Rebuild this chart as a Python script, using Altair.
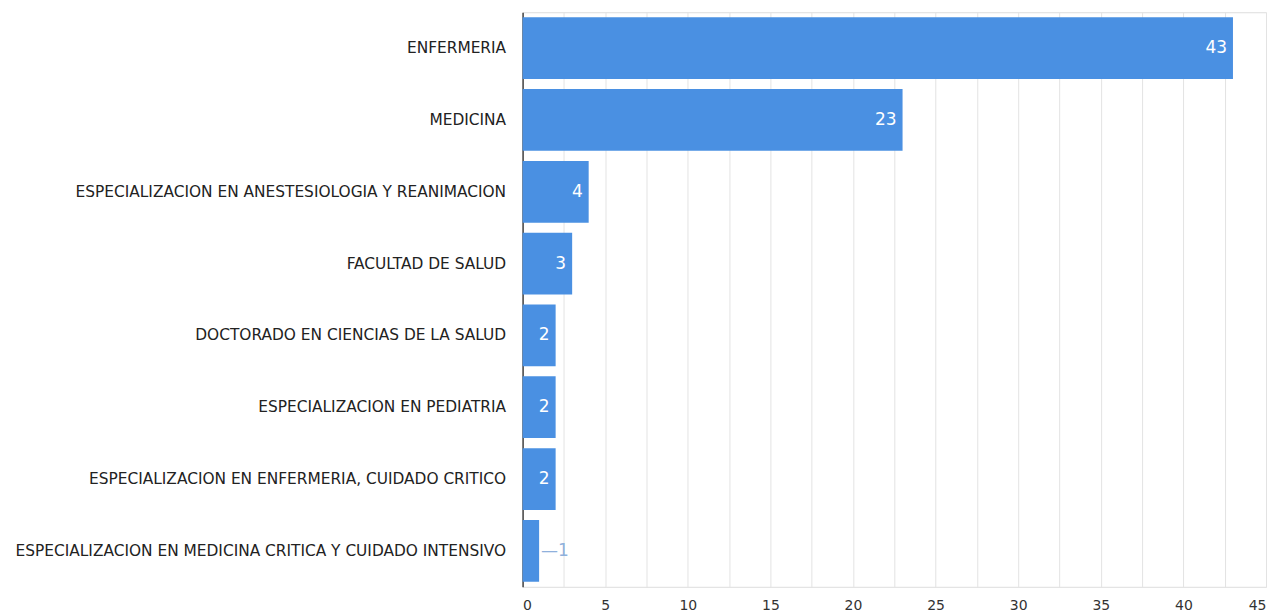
import altair as alt
import pandas as pd

categories = [
    "ENFERMERIA",
    "MEDICINA",
    "ESPECIALIZACION EN ANESTESIOLOGIA Y REANIMACION",
    "FACULTAD DE SALUD",
    "DOCTORADO EN CIENCIAS DE LA SALUD",
    "ESPECIALIZACION EN PEDIATRIA",
    "ESPECIALIZACION EN ENFERMERIA, CUIDADO CRITICO",
    "ESPECIALIZACION EN MEDICINA CRITICA Y CUIDADO INTENSIVO",
]
values = [43, 23, 4, 3, 2, 2, 2, 1]
grid_values = [i * 2.5 for i in range(19)]

df = pd.DataFrame({"cat": categories, "val": values})
df["inside"] = df["val"] >= 2
df["lbl"] = [str(v) if v >= 2 else "\u2014" + str(v) for v in values]

FONT = "DejaVu Sans"

y_enc = alt.Y("cat:N", sort=categories, title=None,
              scale=alt.Scale(paddingInner=0.14, paddingOuter=0.07),
              axis=alt.Axis(labelFontSize=15.4, labelColor="#222", labelFont=FONT,
                            labelPadding=17, ticks=False, domain=False, labelLimit=600))
x_enc = alt.X("val:Q", title=None,
              scale=alt.Scale(domain=[0, 45], nice=False),
              axis=alt.Axis(values=grid_values,
                            labelExpr="datum.value % 5 == 0 ? datum.label : ''",
                            labelFontSize=14, labelColor="#333", labelFont=FONT,
                            labelPadding=12, ticks=False, domain=False,
                            gridColor=alt.condition("datum.value == 0", alt.value("#444"), alt.value("#e3e3e3")),
                            gridWidth=alt.condition("datum.value == 0", alt.value(1.5), alt.value(1))))

bars = alt.Chart(df).mark_bar(color="#4a90e2").encode(y=y_enc, x=x_enc)

inside = alt.Chart(df).transform_filter("datum.inside").mark_text(
    align="right", baseline="middle", dx=-6, color="white", fontSize=17, font=FONT
).encode(y=alt.Y("cat:N", sort=categories), x="val:Q", text="lbl:N")

outside = alt.Chart(df).transform_filter("!datum.inside").mark_text(
    align="left", baseline="middle", dx=2, color="#8fb0dc", fontSize=17, font=FONT
).encode(y=alt.Y("cat:N", sort=categories), x="val:Q", text="lbl:N")

chart = alt.layer(bars, inside, outside).properties(
    width=744, height=575,
    autosize=alt.AutoSizeParams(type="none"),
    padding={"left": 515, "top": 4, "right": 10, "bottom": 30},
).configure_view(stroke=None).configure(background="white")

chart.save("out.html", embed_options={"renderer": "svg", "actions": False})
